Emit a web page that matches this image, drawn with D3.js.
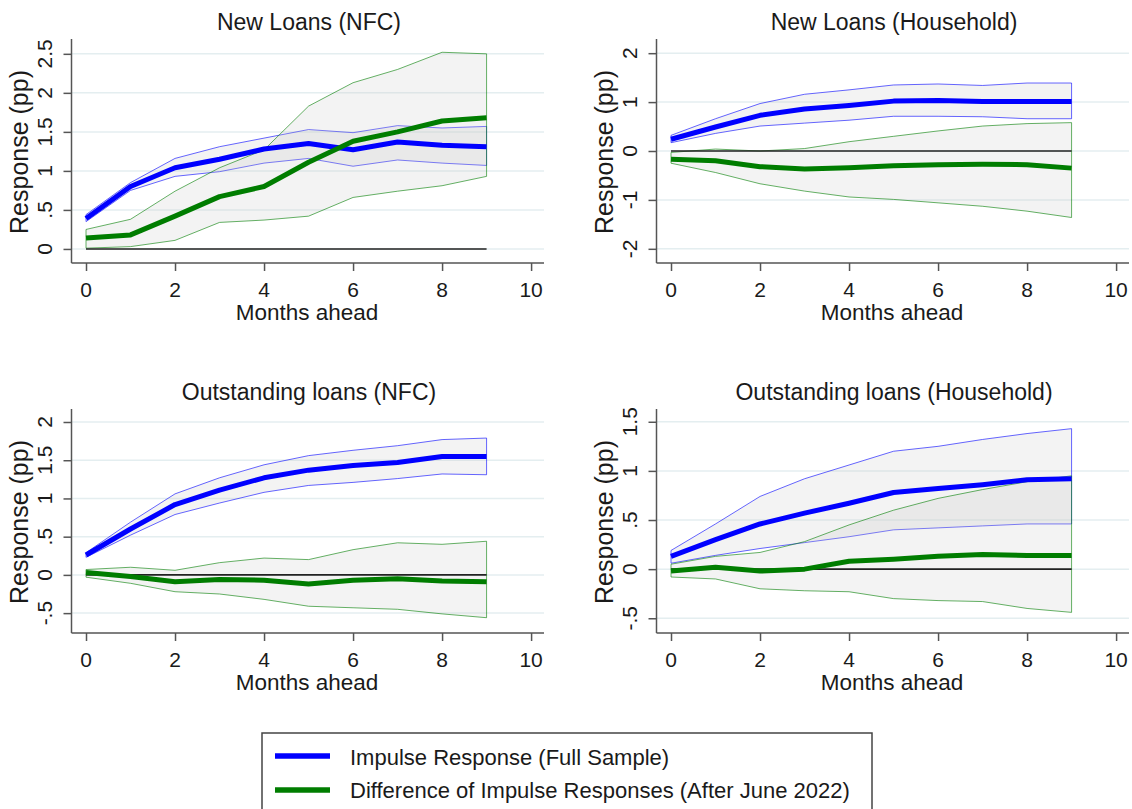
<!DOCTYPE html>
<html>
<head>
<meta charset="utf-8">
<script src="https://cdn.jsdelivr.net/npm/d3@7"></script>
<style>
  body { margin: 0; background: #fff; }
  text { font-family: Arial, "Liberation Sans", sans-serif; fill: #1a1a1a; }
</style>
</head>
<body>
<svg id="chart" width="1132" height="809"></svg>
<script>
// months ahead
var months = [0,1,2,3,4,5,6,7,8,9]

// New Loans (NFC)
var nlNfcIrf    = [0.39,0.80,1.04,1.15,1.28,1.35,1.27,1.37,1.33,1.31]
var nlNfcHi     = [0.44,0.85,1.16,1.31,1.42,1.53,1.49,1.58,1.55,1.57]
var nlNfcLo     = [0.35,0.75,0.93,0.99,1.10,1.16,1.06,1.14,1.10,1.07]
var nlNfcDiff   = [0.14,0.18,0.42,0.67,0.80,1.11,1.38,1.50,1.64,1.68]
var nlNfcDiffHi = [0.25,0.38,0.74,1.04,1.27,1.83,2.13,2.30,2.52,2.50]
var nlNfcDiffLo = [0.01,0.03,0.11,0.34,0.37,0.42,0.66,0.74,0.81,0.93]

// New Loans (Household)
var nlHhIrf    = [0.24,0.49,0.73,0.86,0.93,1.02,1.03,1.01,1.01,1.01]
var nlHhHi     = [0.32,0.66,0.97,1.16,1.25,1.35,1.37,1.34,1.39,1.39]
var nlHhLo     = [0.17,0.36,0.51,0.57,0.63,0.71,0.71,0.70,0.66,0.66]
var nlHhDiff   = [-0.17,-0.20,-0.32,-0.37,-0.34,-0.30,-0.28,-0.27,-0.28,-0.35]
var nlHhDiffHi = [-0.03,0.04,0.00,0.05,0.19,0.30,0.41,0.51,0.56,0.58]
var nlHhDiffLo = [-0.25,-0.44,-0.67,-0.82,-0.94,-0.99,-1.06,-1.13,-1.23,-1.36]

// Outstanding loans (NFC)
var olNfcIrf    = [0.26,0.60,0.92,1.11,1.27,1.37,1.43,1.47,1.55,1.55]
var olNfcHi     = [0.29,0.69,1.06,1.27,1.44,1.56,1.63,1.69,1.77,1.79]
var olNfcLo     = [0.23,0.52,0.79,0.94,1.08,1.17,1.21,1.26,1.32,1.31]
var olNfcDiff   = [0.03,-0.02,-0.09,-0.06,-0.07,-0.12,-0.07,-0.05,-0.08,-0.09]
var olNfcDiffHi = [0.07,0.10,0.06,0.16,0.22,0.20,0.33,0.42,0.40,0.44]
var olNfcDiffLo = [-0.03,-0.11,-0.22,-0.25,-0.32,-0.41,-0.43,-0.45,-0.51,-0.56]

// Outstanding loans (Household)
var olHhIrf    = [0.13,0.30,0.46,0.57,0.67,0.78,0.82,0.86,0.91,0.92]
var olHhHi     = [0.19,0.46,0.74,0.92,1.06,1.20,1.25,1.32,1.38,1.43]
var olHhLo     = [0.06,0.14,0.21,0.27,0.33,0.40,0.42,0.44,0.46,0.46]
var olHhDiff   = [-0.02,0.02,-0.02,0.00,0.08,0.10,0.13,0.15,0.14,0.14]
var olHhDiffHi = [0.05,0.13,0.17,0.28,0.45,0.60,0.72,0.81,0.89,0.95]
var olHhDiffLo = [-0.08,-0.10,-0.20,-0.22,-0.23,-0.30,-0.32,-0.33,-0.40,-0.44]

var titles = ["New Loans (NFC)","New Loans (Household)","Outstanding loans (NFC)","Outstanding loans (Household)"]
var xTicks = [0,2,4,6,8,10]
var yTicks = [[0,.5,1,1.5,2,2.5],[-2,-1,0,1,2],[-.5,0,.5,1,1.5,2],[-.5,0,.5,1,1.5]]
var legendLabels = ["Impulse Response (Full Sample)","Difference of Impulse Responses (After June 2022)"]

var panels = [
  {irf:nlNfcIrf, hi:nlNfcHi, lo:nlNfcLo, diff:nlNfcDiff, dhi:nlNfcDiffHi, dlo:nlNfcDiffLo},
  {irf:nlHhIrf,  hi:nlHhHi,  lo:nlHhLo,  diff:nlHhDiff,  dhi:nlHhDiffHi,  dlo:nlHhDiffLo},
  {irf:olNfcIrf, hi:olNfcHi, lo:olNfcLo, diff:olNfcDiff, dhi:olNfcDiffHi, dlo:olNfcDiffLo},
  {irf:olHhIrf,  hi:olHhHi,  lo:olHhLo,  diff:olHhDiff,  dhi:olHhDiffHi,  dlo:olHhDiffLo}
]
// axis extents of each panel (data units)
var yDomains = [[-0.18,2.69],[-2.29,2.29],[-0.76,2.17],[-0.65,1.63]]
var offsets = [[0,0],[585,0],[0,370],[585,370]]

var blue = "#0000ff", green = "#007d00"
var fmt = v => (v+"").replace(/^0\./,".").replace(/^-0\./,"-.")

var svg = d3.select("#chart")

panels.forEach((p, k) => {
  var g = svg.append("g").attr("transform","translate(" + offsets[k][0] + "," + offsets[k][1] + ")")
  var x = d3.scaleLinear().domain([-0.326,10.29]).range([71.5,544])
  var y = d3.scaleLinear().domain(yDomains[k]).range([263,39])

  // gridlines
  g.append("g").selectAll("line")
    .data(yTicks[k]).enter().append("line")
    .attr("x1",72).attr("x2",544)
    .attr("y1",d=>y(d)).attr("y2",d=>y(d))
    .style("stroke","#e4eef0").style("stroke-width",1.5)

  var pts = months.map((m,i) => i)
  var area = (lo,hi) => d3.area().x(i=>x(months[i])).y0(i=>y(lo[i])).y1(i=>y(hi[i]))
  var line = arr => d3.line().x(i=>x(months[i])).y(i=>y(arr[i]))

  // bands
  ;[[p.lo,p.hi,blue],[p.dlo,p.dhi,green]].forEach(b => {
    g.append("path")
      .attr("d", area(b[0],b[1])(pts) + "Z")
      .style("fill","#c8c8c8").style("fill-opacity",0.22)
      .style("stroke",b[2]).style("stroke-opacity",0.6).style("stroke-width",1)
  })

  // zero line
  g.append("line")
    .attr("x1",x(0)).attr("x2",x(9)).attr("y1",y(0)).attr("y2",y(0))
    .style("stroke","#222").style("stroke-width",1.6)

  g.append("path").attr("d",line(p.irf)(pts))
    .style("fill","none").style("stroke",blue).style("stroke-width",5).style("stroke-linejoin","round")
  g.append("path").attr("d",line(p.diff)(pts))
    .style("fill","none").style("stroke",green).style("stroke-width",5).style("stroke-linejoin","round")

  // axes
  var ya = g.append("g").attr("transform","translate(71.5,0)")
    .call(d3.axisLeft(y).tickValues(yTicks[k]).tickSize(8).tickFormat(""))
  ya.select(".domain").attr("d","M0,39V263").style("stroke","#555").style("stroke-width",1.5)
  ya.selectAll(".tick line").style("stroke","#555").style("stroke-width",1.5)

  var xa = g.append("g").attr("transform","translate(0,263)")
    .call(d3.axisBottom(x).tickValues(xTicks).tickSize(8).tickFormat(""))
  xa.select(".domain").attr("d","M71.5,0H544").style("stroke","#555").style("stroke-width",1.5)
  xa.selectAll(".tick line").style("stroke","#555").style("stroke-width",1.5)

  // y tick labels (vertical)
  g.append("g").selectAll("text")
    .data(yTicks[k]).enter().append("text")
    .attr("transform", d => "translate(52," + y(d) + ") rotate(-90)")
    .style("text-anchor","middle").style("font-size","21px")
    .text(fmt)

  // x tick labels
  g.append("g").selectAll("text")
    .data(xTicks).enter().append("text")
    .attr("x", d => x(d)).attr("y", 297)
    .style("text-anchor","middle").style("font-size","21px")
    .text(d => d)

  g.append("text").attr("x",307).attr("y",320)
    .style("text-anchor","middle").style("font-size","22.5px").text("Months ahead")
  g.append("text").attr("transform","translate(28,152) rotate(-90)")
    .style("text-anchor","middle").style("font-size","25px").text("Response (pp)")
  g.append("text").attr("x",309).attr("y",29.5)
    .style("text-anchor","middle").style("font-size","23px").text(titles[k])
})

// legend
var lg = svg.append("g")
lg.append("rect").attr("x",262).attr("y",733).attr("width",610).attr("height",90)
  .style("fill","#fff").style("stroke","#444").style("stroke-width",1.5)
lg.selectAll("line.key").data([blue,green]).enter().append("line")
  .attr("x1",275).attr("x2",330)
  .attr("y1",(d,i)=>756+i*34).attr("y2",(d,i)=>756+i*34)
  .style("stroke",d=>d).style("stroke-width",5.5)
lg.selectAll("text").data(legendLabels).enter().append("text")
  .attr("x",350).attr("y",(d,i)=>765+i*33)
  .style("font-size","22px").text(d=>d)
</script>
</body>
</html>
